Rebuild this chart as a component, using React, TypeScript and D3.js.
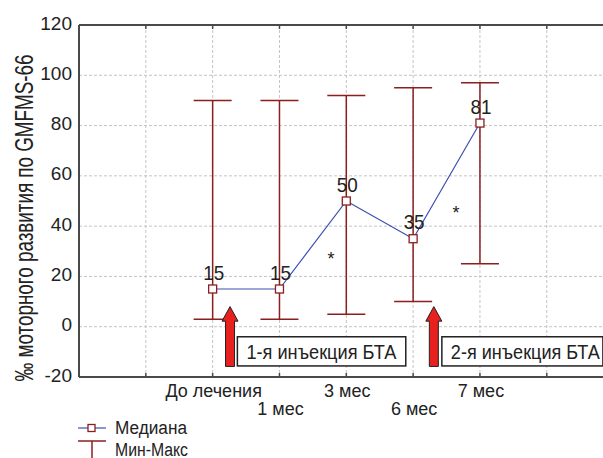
import React from 'react';
import * as d3 from 'd3';

// data
const categories = ['До лечения', '1 мес', '3 мес', '6 мес', '7 мес'];
const labelRow = [0, 1, 0, 1, 0];
const medians = [15, 15, 50, 35, 81];
const minVals = [3, 3, 5, 10, 25];
const maxVals = [90, 90, 92, 95, 97];
const yTicks = [-20, 0, 20, 40, 60, 80, 100, 120];
const xGrid = [-1, 0, 1, 2, 3, 4, 5];
// asterisks between visits (x in category units, y in value units)
const stars = [
  { x: 1.77, y: 28.5 },
  { x: 3.64, y: 46.8 },
];
// injection markers
const injections = [
  { label: '1-я инъекция БТА', arrowX: 0.26, boxX0: 0.37, boxX1: 2.89, textLen: 150 },
  { label: '2-я инъекция БТА', arrowX: 3.31, boxX0: 3.43, boxX1: 5.84, textLen: 149 },
];

const W = 603;
const H = 458;
const FONT = '"Liberation Sans", Arial, sans-serif';
const RED = '#8b1f1f';
const BLUE = '#3d4fb0';
const GRID = '#c4c4c4';
const AXIS = '#4a4a4a';
const TEXT = '#222';

const App = () => {
  const x = d3.scaleLinear().domain([-2, 6]).range([79, 613.6]);
  const y = d3.scaleLinear().domain([-20, 120]).range([377, 25]);

  const line = d3.line<number>()
    .x((d, i) => x(i))
    .y(d => y(d));

  const capHalf = 19;
  const plotRight = W;

  const arrowPath = (cx: number) => {
    const tip = y(8);
    const headBase = y(2.2);
    const bottom = y(-15.8);
    const hw = 8;
    const sw = 4.5;
    return `M${cx},${tip} L${cx + hw},${headBase} L${cx + sw},${headBase} L${cx + sw},${bottom} L${cx - sw},${bottom} L${cx - sw},${headBase} L${cx - hw},${headBase} Z`;
  };

  return (
    <svg width={W} height={H} style={{ position: 'absolute', left: 0, top: 0, background: '#fff' }}
      fontFamily={FONT}>
      {/* grid */}
      {yTicks.slice(1, -1).map(t => (
        <line key={'gy' + t} x1={x(-2)} x2={plotRight} y1={y(t)} y2={y(t)}
          stroke={GRID} strokeDasharray="3,2" />
      ))}
      {xGrid.map(t => (
        <line key={'gx' + t} x1={x(t)} x2={x(t)} y1={y(120)} y2={y(-20)}
          stroke={GRID} strokeDasharray="3,2" />
      ))}

      {/* frame */}
      <line x1={x(-2)} x2={plotRight} y1={y(120)} y2={y(120)} stroke={AXIS} strokeWidth={2} />
      <line x1={x(-2)} x2={plotRight} y1={y(-20)} y2={y(-20)} stroke={AXIS} strokeWidth={2} />
      <line x1={x(-2)} x2={x(-2)} y1={y(120)} y2={y(-20)} stroke={AXIS} strokeWidth={2} />
      {xGrid.map(t => (
        <g key={'tk' + t}>
          <line x1={x(t)} x2={x(t)} y1={y(120)} y2={y(120) + 4} stroke={AXIS} strokeWidth={1.5} />
          <line x1={x(t)} x2={x(t)} y1={y(-20)} y2={y(-20) - 4} stroke={AXIS} strokeWidth={1.5} />
        </g>
      ))}

      {/* y tick labels */}
      {yTicks.map(t => (
        <text key={'yl' + t} x={72} y={y(t) + 4.5} textAnchor="end" fontSize={19} fill={TEXT}>
          {t}
        </text>
      ))}

      {/* x tick labels */}
      {categories.map((c, i) => (
        <text key={'xl' + i} x={x(i) + 1} y={labelRow[i] === 0 ? 396.5 : 415} textAnchor="middle"
          fontSize={18} fill={TEXT}>
          {c}
        </text>
      ))}

      {/* y title */}
      <text transform={`translate(33,218) rotate(-90)`} textAnchor="middle" fontSize={25}
        fill={TEXT} textLength={327} lengthAdjust="spacingAndGlyphs">
        ‰ моторного развития по  GMFMS-66
      </text>

      {/* min-max bars */}
      {categories.map((c, i) => (
        <g key={'eb' + i} stroke={RED} strokeWidth={1.5}>
          <line x1={x(i)} x2={x(i)} y1={y(maxVals[i])} y2={y(minVals[i])} />
          <line x1={x(i) - capHalf} x2={x(i) + capHalf} y1={y(maxVals[i])} y2={y(maxVals[i])} />
          <line x1={x(i) - capHalf} x2={x(i) + capHalf} y1={y(minVals[i])} y2={y(minVals[i])} />
        </g>
      ))}

      {/* median line */}
      <path d={line(medians) || ''} fill="none" stroke={BLUE} strokeWidth={1.2} />
      {medians.map((m, i) => (
        <rect key={'mk' + i} x={x(i) - 4} y={y(m) - 4} width={8} height={8}
          fill="#fff" stroke={RED} strokeWidth={1.3} />
      ))}
      {medians.map((m, i) => (
        <text key={'ml' + i} x={x(i) + 1} y={y(m) - 9.5} textAnchor="middle" fontSize={21}
          fill={TEXT} textLength={21} lengthAdjust="spacingAndGlyphs">
          {m}
        </text>
      ))}

      {/* asterisks */}
      {stars.map((s, i) => (
        <text key={'st' + i} x={x(s.x)} y={y(s.y) + 10} textAnchor="middle" fontSize={18} fill={TEXT}>
          *
        </text>
      ))}

      {/* injections */}
      {injections.map((inj, i) => (
        <g key={'inj' + i}>
          <path d={arrowPath(x(inj.arrowX))} fill="#e8201e" stroke="#222" strokeWidth={1} />
          <rect x={x(inj.boxX0)} y={y(-4)} width={x(inj.boxX1) - x(inj.boxX0)} height={y(-15.6) - y(-4)}
            fill="#fff" stroke="#222" strokeWidth={1.5} />
          <text x={x(inj.boxX0) + 9} y={y(-4) + 22.5} fontSize={20} fill={TEXT}
            textLength={inj.textLen} lengthAdjust="spacingAndGlyphs">
            {inj.label}
          </text>
        </g>
      ))}

      {/* legend */}
      <line x1={78} x2={106} y1={428} y2={428} stroke={BLUE} strokeWidth={1.2} />
      <rect x={88} y={424.5} width={7} height={7} fill="#fff" stroke={RED} strokeWidth={1.3} />
      <text x={115} y={433.5} fontSize={18} fill={TEXT} textLength={72} lengthAdjust="spacingAndGlyphs">
        Медиана
      </text>
      <g stroke={RED} strokeWidth={1.5}>
        <line x1={78} x2={106} y1={441} y2={441} />
        <line x1={92} x2={92} y1={441} y2={458} />
      </g>
      <text x={115} y={455.5} fontSize={18} fill={TEXT} textLength={73} lengthAdjust="spacingAndGlyphs">
        Мин-Макс
      </text>
    </svg>
  );
};

export default App;
